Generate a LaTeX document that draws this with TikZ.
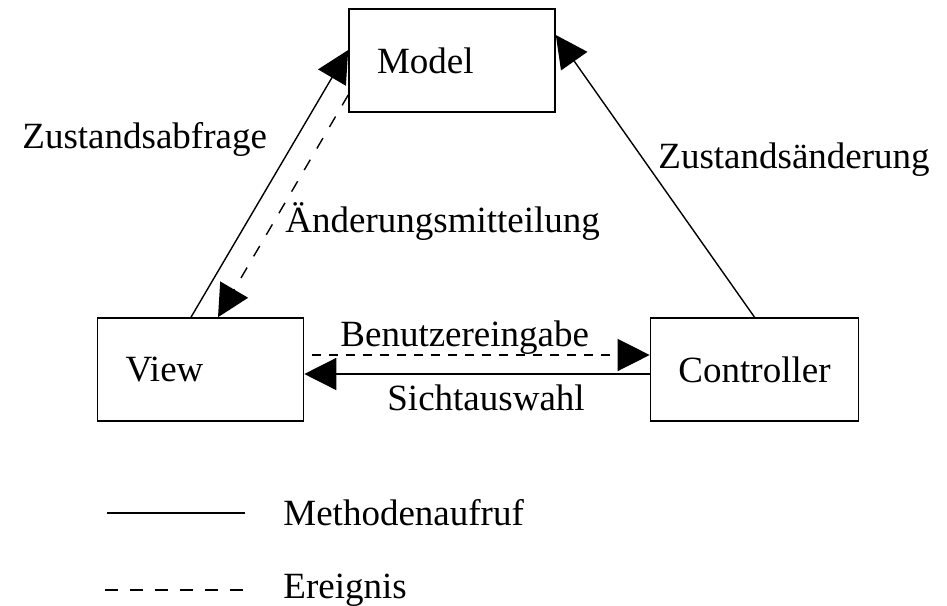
\documentclass[tikz,border=0pt]{standalone}
\usepackage{fontspec}
\setmainfont{Liberation Serif}
\usetikzlibrary{arrows.meta}

\tikzset{
  comp/.style={draw, line width=0.8pt, minimum width=103pt, minimum height=51.5pt, inner xsep=14pt},
  leftcomp/.style={comp, text width=75pt, align=left},
  lbl/.style={inner sep=0pt, anchor=base west},
  conn/.style={line width=0.7pt},
  tip/.style={-{Triangle[length=16pt,width=16pt]}},
}

\begin{document}
\begin{tikzpicture}[x=0.5pt, y=-0.5pt, font=\fontsize{18.5}{22}\selectfont]
        \useasboundingbox (0,0) rectangle (947,605);

        % Boxes
        \node[leftcomp] (model) at (452,60.5) {Model};
        \node[leftcomp] (view) at (200.5,369.5) {View};
        \node[comp] (controller) at (754.5,369.5) {Controller};

        % View <-> Model
        \draw[conn, tip] ([xshift=-4.75pt]view.north) -- ([yshift=5.25pt]model.west);
        \draw[conn, tip, dash pattern=on 6pt off 6.5pt] ([yshift=-17.25pt]model.west) -- ([xshift=8.75pt]view.north);

        % Controller -> Model
        \draw[conn, tip] (controller.north) -- ([yshift=12.75pt]model.east);

        % View <-> Controller
        \draw[conn, tip, dash pattern=on 4.5pt off 4pt, dash phase=4.5pt] ([yshift=7.25pt]view.east) -- ([yshift=7.25pt]controller.west);
        \draw[conn, tip] ([yshift=-2.25pt]controller.west) -- ([yshift=-2.25pt]view.east);

        % Labels
        \node[lbl] (abfrage) at (22,148) {Zustandsabfrage};
        \node[lbl] (mitteilung) at (285,232) {Änderungsmitteilung};
        \node[lbl] (aenderung) at (658,168) {Zustandsänderung};
        \node[lbl] (eingabe) at (340,346) {Benutzereingabe};
        \node[lbl] (auswahl) at (387,410) {Sichtauswahl};

        % Legend
        \coordinate (call1) at (107,513);
        \coordinate (call2) at (245,513);
        \draw[conn] (call1) -- (call2);
        \node[lbl] (methode) at (283,525) {Methodenaufruf};

        \coordinate (event1) at (105,590);
        \coordinate (event2) at (243,590);
        \draw[conn, dash pattern=on 6.5pt off 6pt] (event1) -- (event2);
        \node[lbl] (ereignis) at (283,598) {Ereignis};

\end{tikzpicture}
\end{document}
